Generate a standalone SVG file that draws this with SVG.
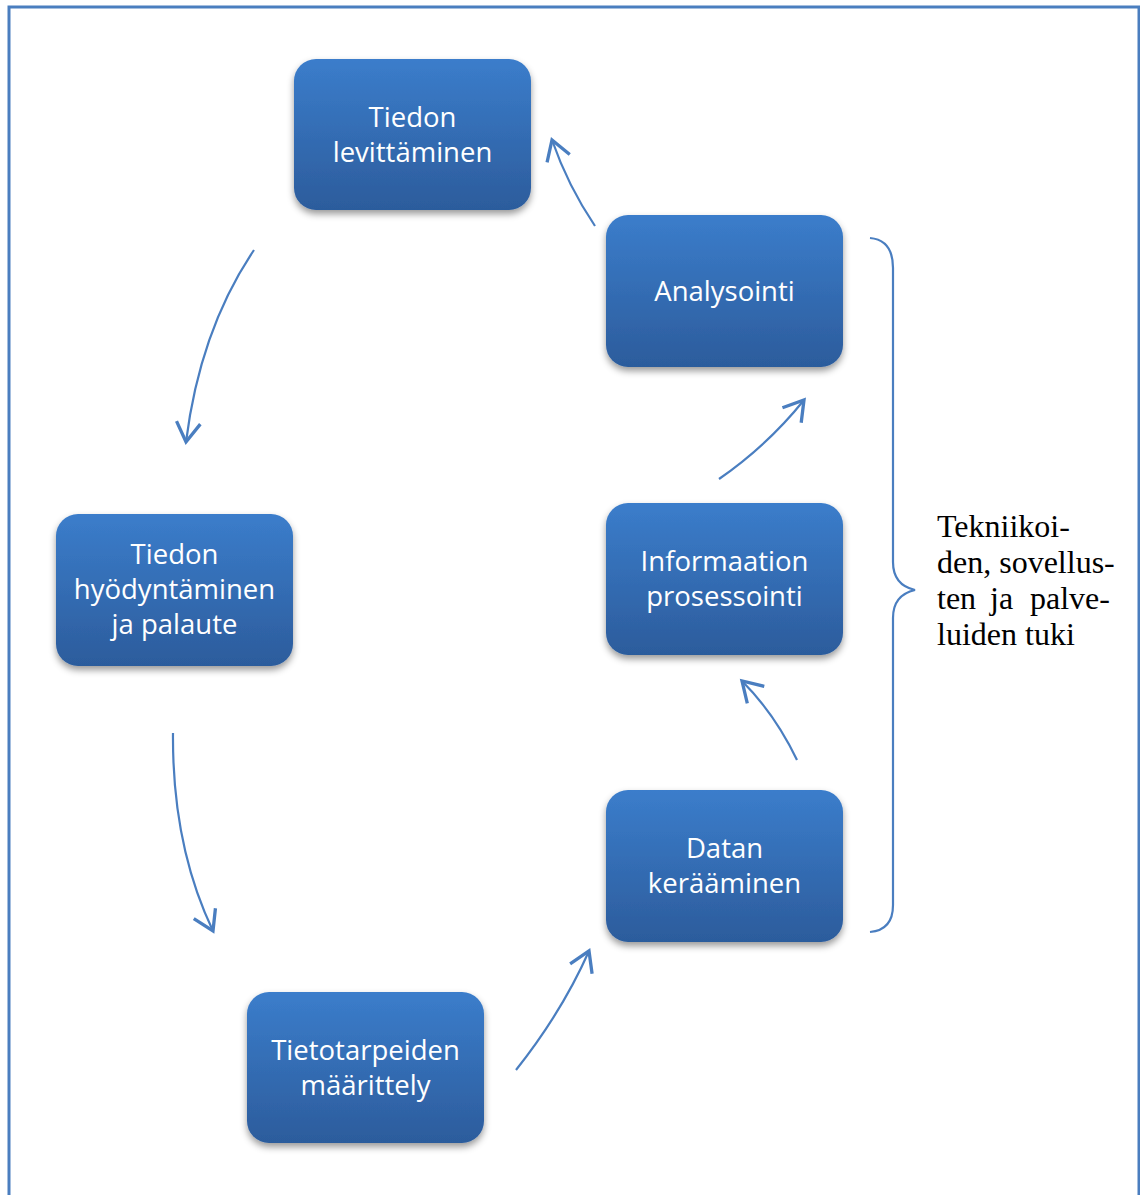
<svg xmlns="http://www.w3.org/2000/svg" width="1140" height="1195" viewBox="0 0 1140 1195">
<style>
.box{fill:url(#g);filter:url(#sh)}
.t{font-family:"Open Sans","Liberation Sans",sans-serif;font-size:27.5px;fill:#fff;text-anchor:middle}
.c{fill:none;stroke:#4A7EC0;stroke-width:2.2}
.side{font-family:"Liberation Serif","Times New Roman",serif;font-size:32px;fill:#000}
</style>
<defs>
<linearGradient id="g" x1="0" y1="0" x2="0" y2="1">
<stop offset="0" stop-color="#3B7DCB"/>
<stop offset="1" stop-color="#2C5C9C"/>
</linearGradient>
<filter id="sh" x="-20%" y="-20%" width="140%" height="150%">
<feDropShadow dx="0" dy="4" stdDeviation="3.5" flood-color="#000" flood-opacity="0.4"/>
</filter>
<marker id="a" markerUnits="userSpaceOnUse" markerWidth="30" markerHeight="30" refX="0" refY="0" viewBox="-16 -10 20 20" orient="auto">
<path d="M-13,-8 L0,0 L-13,8" fill="none" stroke="#4A7EC0" stroke-width="2.2"/>
</marker>
</defs>
<rect width="1140" height="1195" fill="#fff"/>
<path d="M9,1195 V7 H1139 V1195" fill="none" stroke="#4A7EBF" stroke-width="3"/>

<g id="connectors">
<path class="c" d="M595,226 Q568,186 552,140" marker-end="url(#a)"/>
<path class="c" d="M254,250 Q200,330 186,442" marker-end="url(#a)"/>
<path class="c" d="M173,733 Q172,845 213,931" marker-end="url(#a)"/>
<path class="c" d="M516,1070 Q562,1012 589,951" marker-end="url(#a)"/>
<path class="c" d="M719,479 Q768,445 804,400" marker-end="url(#a)"/>
<path class="c" d="M797,760 Q775,714 742,681" marker-end="url(#a)"/>
</g>

<g id="n1"><rect class="box" x="294" y="59" width="237" height="151" rx="22"/>
<text class="t" x="412.5" y="127">Tiedon</text><text class="t" x="412.5" y="162">levittäminen</text></g>
<g id="n2"><rect class="box" x="606" y="215" width="237" height="152" rx="22"/>
<text class="t" x="724.5" y="301">Analysointi</text></g>
<g id="n3"><rect class="box" x="606" y="503" width="237" height="152" rx="22"/>
<text class="t" x="724.5" y="571">Informaation</text><text class="t" x="724.5" y="606">prosessointi</text></g>
<g id="n4"><rect class="box" x="606" y="790" width="237" height="152" rx="22"/>
<text class="t" x="724.5" y="858">Datan</text><text class="t" x="724.5" y="893">kerääminen</text></g>
<g id="n5"><rect class="box" x="56" y="514" width="237" height="152" rx="22"/>
<text class="t" x="174.5" y="564">Tiedon</text><text class="t" x="174.5" y="599">hyödyntäminen</text><text class="t" x="174.5" y="634">ja palaute</text></g>
<g id="n6"><rect class="box" x="247" y="992" width="237" height="151" rx="22"/>
<text class="t" x="365.5" y="1060">Tietotarpeiden</text><text class="t" x="365.5" y="1095">määrittely</text></g>

<g id="brace">
<path class="c" d="M870,238 Q893,240 893,268 V562 Q893,585 915,590 Q893,595 893,618 V905 Q893,930 870,932"/>
<text class="side" x="937" y="537">Tekniikoi-</text>
<text class="side" x="937" y="573">den, sovellus-</text>
<text class="side" y="609"><tspan x="937">ten</tspan><tspan x="990">ja</tspan><tspan x="1030">palve-</tspan></text>
<text class="side" x="937" y="645">luiden tuki</text>
</g>
</svg>
